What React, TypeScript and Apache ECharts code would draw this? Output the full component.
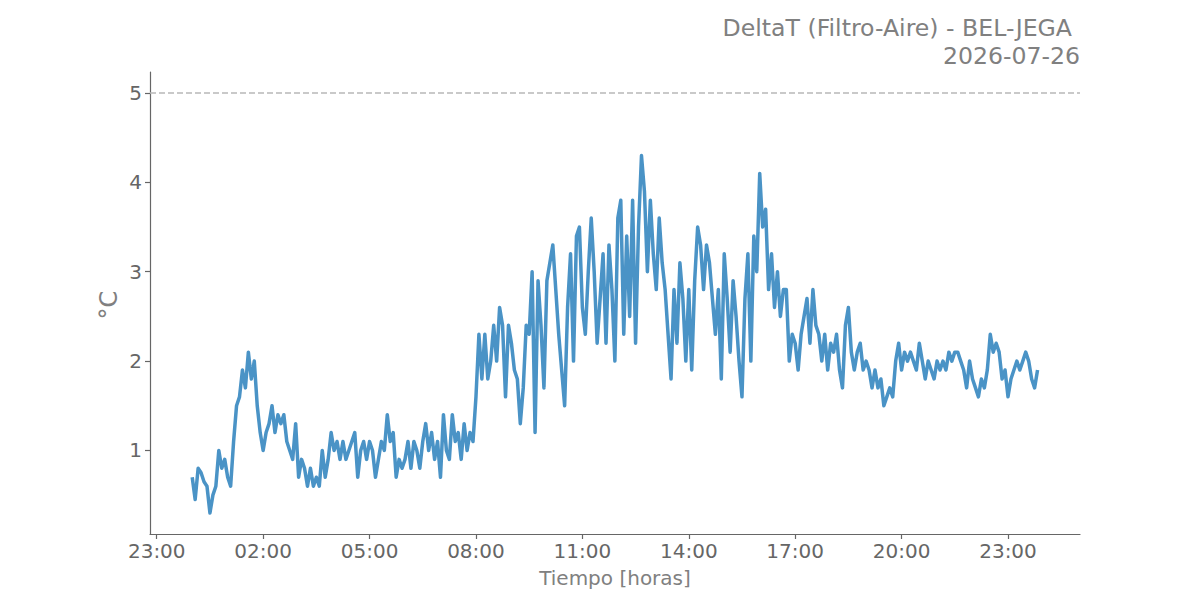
import { useEffect, useRef } from 'react';
import * as echarts from 'echarts';

// DeltaT readings, one every 5 minutes from 00:00 of the chart day
const SAMPLE_STEP_MIN = 5;

const nightValues = [
  0.7, 0.45, 0.8, 0.75, 0.65, 0.6, 0.3, 0.5, 0.6, 1.0, 0.8, 0.9, 0.7, 0.6, 1.1, 1.5, 1.6, 1.9, 1.7, 2.1,
  1.8, 2.0, 1.5, 1.2, 1.0, 1.2, 1.3, 1.5, 1.2, 1.4, 1.3, 1.4, 1.1, 1.0, 0.9, 1.3, 0.7, 0.9, 0.8, 0.6,
  0.8, 0.6, 0.7, 0.6, 1.0, 0.7, 0.9, 1.2,
];
const earlyMorningValues = [
  1.0, 1.1, 0.9, 1.1, 0.9, 1.0, 1.1, 1.2, 0.7, 1.0, 1.1, 0.9, 1.1, 1.0, 0.7, 0.9, 1.1, 1.0, 1.4, 1.1,
  1.2, 0.7, 0.9, 0.8, 0.9, 1.1, 0.8, 1.1, 1.0, 0.8, 1.1, 1.3, 1.0, 1.2, 0.9, 1.1, 0.7, 1.4, 1.0, 0.9,
  1.4, 1.1, 1.2, 0.9, 1.3, 1.0, 1.2, 1.1,
];
const lateMorningValues = [
  1.6, 2.3, 1.8, 2.3, 1.8, 2.0, 2.4, 2.0, 2.6, 2.4, 1.6, 2.4, 2.2, 1.9, 1.8, 1.3, 1.7, 2.4, 2.3, 3.0,
  1.2, 2.9, 2.4, 1.7, 2.9, 3.1, 3.3, 2.8, 2.3, 1.9, 1.5, 2.6, 3.2, 2.0, 3.4, 3.5, 2.6, 2.3, 3.0, 3.6,
  3.0, 2.2, 2.7, 3.2, 2.2, 3.3, 2.8, 2.0,
];
const afternoonValues = [
  3.6, 3.8, 2.3, 3.4, 2.5, 3.8, 2.2, 3.5, 4.3, 3.9, 3.0, 3.8, 3.2, 2.8, 3.6, 3.1, 2.8, 2.3, 1.8, 2.8,
  2.2, 3.1, 2.7, 2.0, 2.8, 1.9, 2.9, 3.5, 3.3, 2.8, 3.3, 3.1, 2.7, 2.3, 2.8, 1.8, 3.2, 2.7, 2.1, 2.9,
  2.5, 2.0, 1.6, 2.7, 3.2, 2.0, 3.4, 3.0,
];
const eveningValues = [
  4.1, 3.5, 3.7, 2.8, 3.2, 2.6, 3.0, 2.5, 2.8, 2.8, 2.0, 2.3, 2.2, 1.9, 2.3, 2.5, 2.7, 2.2, 2.8, 2.4,
  2.3, 2.0, 2.3, 1.9, 2.2, 2.1, 2.3, 1.9, 1.7, 2.4, 2.6, 2.1, 1.9, 2.1, 2.2, 1.9, 2.0, 1.9, 1.7, 1.9,
  1.7, 1.8, 1.5, 1.6, 1.7, 1.6, 2.0, 2.2,
];
const nightEndValues = [
  1.9, 2.1, 2.0, 2.1, 2.0, 1.9, 2.2, 2.0, 1.8, 2.0, 1.9, 1.8, 2.0, 1.9, 2.0, 1.9, 2.1, 2.0, 2.1, 2.1,
  2.0, 1.9, 1.7, 2.0, 1.8, 1.7, 1.6, 1.8, 1.7, 1.9, 2.3, 2.1, 2.2, 2.1, 1.8, 1.9, 1.6, 1.8, 1.9, 2.0,
  1.9, 2.0, 2.1, 2.0, 1.8, 1.7, 1.9,
];

const deltaT = [
  ...nightValues,
  ...earlyMorningValues,
  ...lateMorningValues,
  ...afternoonValues,
  ...eveningValues,
  ...nightEndValues,
];

// hours relative to 00:00 of the chart day (-1 = 23:00 the day before)
const xTickHours = [-1, 2, 5, 8, 11, 14, 17, 20, 23];
const yTickValues = [1, 2, 3, 4, 5];
const LIMIT = 5;

const X_MIN = -1.19;
const X_MAX = 25.03;
const Y_MIN = 0.065;
const Y_MAX = 5.235;

const formatHour = (v: number) => {
  const total = Math.round(v * 60);
  const m = ((total % 1440) + 1440) % 1440;
  const hh = String(Math.floor(m / 60)).padStart(2, '0');
  const mm = String(m % 60).padStart(2, '0');
  return `${hh}:${mm}`;
};

const FONT = '"DejaVu Sans", sans-serif';

export default function App() {
  const ref = useRef<HTMLDivElement>(null);

  useEffect(() => {
    document.body.style.margin = '0';
    if (!ref.current) {
      return undefined;
    }

    const chart = echarts.init(ref.current, undefined, { renderer: 'svg' });
    const option: echarts.EChartsOption = {
      animation: false,
      backgroundColor: '#ffffff',
      textStyle: { fontFamily: FONT },
      title: [
        {
          text: 'DeltaT (Filtro-Aire) - BEL-JEGA',
          right: 128,
          top: 16,
          padding: 0,
          textStyle: { color: '#808080', fontSize: 23.6, fontWeight: 'normal', fontFamily: FONT },
        },
        {
          text: '2026-07-26',
          right: 120,
          top: 44,
          padding: 0,
          textStyle: { color: '#808080', fontSize: 23.6, fontWeight: 'normal', fontFamily: FONT },
        },
      ],
      // y axis name drawn by hand so it sits where the reference has it
      graphic: [
        {
          type: 'text',
          x: 109,
          y: 305,
          rotation: Math.PI / 2,
          style: {
            text: '°C',
            fill: '#808080',
            fontSize: 24,
            fontFamily: FONT,
            align: 'center',
            verticalAlign: 'middle',
          },
        },
      ],
      grid: { left: 150, right: 120, top: 72, bottom: 66 },
      xAxis: {
        type: 'value',
        min: X_MIN,
        max: X_MAX,
        name: 'Tiempo [horas]',
        nameLocation: 'middle',
        nameGap: 34,
        nameTextStyle: { color: '#808080', fontSize: 20, fontFamily: FONT },
        axisLine: { onZero: false, lineStyle: { color: '#666666', width: 1.2 } },
        axisTick: { customValues: xTickHours, length: 5, lineStyle: { color: '#666666', width: 1.2 } },
        axisLabel: {
          customValues: xTickHours,
          formatter: (v: number) => formatHour(v),
          color: '#666666',
          fontSize: 20,
          margin: 7,
          fontFamily: FONT,
        },
        splitLine: { show: false },
      },
      yAxis: {
        type: 'value',
        min: Y_MIN,
        max: Y_MAX,
        axisLine: { show: true, onZero: false, lineStyle: { color: '#666666', width: 1.2 } },
        axisTick: { show: true, customValues: yTickValues, length: 5, lineStyle: { color: '#666666', width: 1.2 } },
        axisLabel: {
          customValues: yTickValues,
          color: '#666666',
          fontSize: 20,
          margin: 8,
          fontFamily: FONT,
        },
        splitLine: { show: false },
      },
      series: [
        {
          type: 'line',
          data: deltaT.map((v, i) => [(i * SAMPLE_STEP_MIN) / 60, v]),
          showSymbol: false,
          symbol: 'none',
          lineStyle: { color: '#4a93c6', width: 3.5, join: 'round' },
          markLine: {
            silent: true,
            symbol: 'none',
            label: { show: false },
            lineStyle: { color: '#b8b8b8', type: [6, 3], width: 1.5 },
            data: [{ yAxis: LIMIT }],
          },
        },
      ],
    };

    chart.setOption(option);
    return () => {
      chart.dispose();
    };
  }, []);

  return <div ref={ref} style={{ width: 1200, height: 600 }} />;
}
